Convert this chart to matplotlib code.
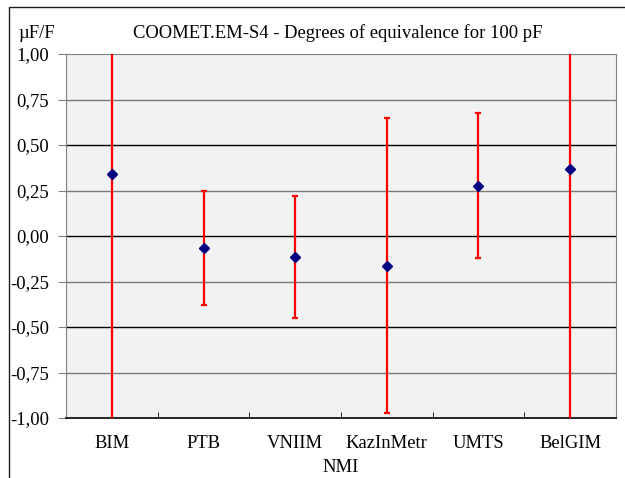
#!/usr/bin/env python3
"""COOMET.EM-S4 degrees of equivalence, 100 pF"""

import matplotlib
matplotlib.use("Agg")
import matplotlib.pyplot as plt
import matplotlib.ticker as ticker
from matplotlib.patches import Rectangle

NMI = ["BIM", "PTB", "VNIIM", "KazInMetr", "UMTS", "BelGIM"]
DOE = [0.34, -0.065, -0.113, -0.163, 0.277, 0.37]
U_DOE = [1.60, 0.315, 0.335, 0.81, 0.40, 1.60]
YTICKS = [-1.0, -0.75, -0.5, -0.25, 0.0, 0.25, 0.5, 0.75, 1.0]

plt.rcParams["font.family"] = ["Liberation Serif", "DejaVu Serif"]
FS = 13.4

W, H = 625, 478
fig = plt.figure(figsize=(W / 100, H / 100), dpi=100)
ax = fig.add_axes([66 / W, 1 - 418 / H, 550 / W, 364 / H])
ax.set_facecolor("#f2f2f2")

x = list(range(len(NMI)))

# grid lines (alternating black / grey like the original export)
for y in YTICKS[1:-1]:
    col = "black" if abs(y * 2 - round(y * 2)) < 1e-9 else "#7a7a7a"
    ax.axhline(y, color=col, lw=1.0, zorder=1)

ax.errorbar(x, DOE, yerr=U_DOE, fmt="none", ecolor="#ff0000",
            elinewidth=1.6, capsize=2.2, capthick=1.6, zorder=3)
ax.plot(x, DOE, "D", color="#000080", ms=5, zorder=4)

ax.set_xlim(-0.5, len(NMI) - 0.5)
ax.set_ylim(-1.0, 1.0)
ax.set_yticks(YTICKS)
ax.yaxis.set_major_formatter(
    ticker.FuncFormatter(lambda v, p: f"{v:.2f}".replace(".", ",")))
ax.set_xticks(x)
ax.set_xticklabels(NMI)
ax.xaxis.set_minor_locator(ticker.FixedLocator([i + 0.5 for i in x[:-1]]))

ax.tick_params(axis="y", labelsize=FS, length=6, color="#808080", pad=6)
ax.tick_params(axis="x", which="major", length=0, labelsize=FS, pad=12)
ax.tick_params(axis="x", which="minor", direction="in", length=4,
               color="black")

for side in ("top", "right", "left"):
    ax.spines[side].set_color("#808080")
ax.spines["bottom"].set_color("black")
ax.spines["bottom"].set_linewidth(1.2)

ax.set_xlabel("NMI", fontsize=FS, labelpad=5)
fig.text(338 / W, 1 - 33 / H, "COOMET.EM-S4 - Degrees of equivalence for 100 pF",
         ha="center", va="center", fontsize=FS)
fig.text(37 / W, 1 - 33 / H, "µF/F", ha="center", va="center", fontsize=FS)

# outer frame
fig.patches.append(Rectangle((9 / W, -0.1), 1.2, 1 - 7 / H + 0.1,
                             transform=fig.transFigure, fill=False,
                             edgecolor="#202020", lw=1.0))

fig.savefig("out.png", dpi=100)
